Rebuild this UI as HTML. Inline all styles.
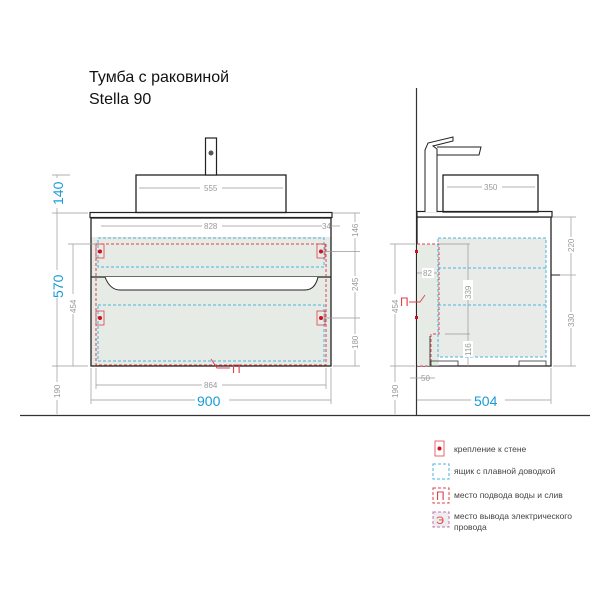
<!DOCTYPE html>
<html><head><meta charset="utf-8"><style>
html,body{margin:0;padding:0;background:#fff;}
svg{display:block;font-family:"Liberation Sans",sans-serif;}
.d{stroke:#999;stroke-width:0.7;fill:none}
.t{fill:#999;font-size:8px}
.b{fill:#1a9bd7;font-size:14px}
.k{stroke:#222;stroke-width:1.3;fill:none}
.cy{stroke:#4ab4e0;stroke-width:1;stroke-dasharray:3,2;fill:none}
.rd{stroke:#e0404a;stroke-width:1;stroke-dasharray:3,2;fill:none}
</style></head><body>
<svg width="600" height="600" viewBox="0 0 600 600" xmlns="http://www.w3.org/2000/svg">
<text x="89" y="82" font-size="16" fill="#111">Тумба с раковиной</text>
<text x="89" y="104" font-size="16" fill="#111">Stella 90</text>

<line x1="20" y1="415.5" x2="590" y2="415.5" stroke="#333" stroke-width="1.2"/>

<!-- FRONT VIEW -->
<rect x="91" y="218" width="240" height="148" fill="#e6ebe6"/>
<rect x="91" y="218" width="240" height="19" fill="#fff"/>
<rect x="91" y="218" width="240" height="148" class="k"/>
<line x1="91" y1="277" x2="331" y2="277" stroke="#222" stroke-width="1.3"/>
<path d="M105 277 Q110 290 120 290 L305 290 Q315 290 318 277" fill="#fff" stroke="#222" stroke-width="1"/>
<rect x="90" y="212.5" width="242" height="5" fill="#fff" stroke="#222" stroke-width="1.2"/>
<rect x="136" y="175" width="150" height="37.5" fill="#fff" class="k"/>
<rect x="205.5" y="138" width="11" height="37" fill="#fff" stroke="#222" stroke-width="1.2"/>
<circle cx="211" cy="153" r="2.5" fill="#555"/>
<rect x="98" y="238" width="226" height="29" class="cy"/>
<rect x="98" y="305" width="226" height="56" class="cy"/>
<rect x="96" y="244" width="230" height="121" class="rd"/>
<g fill="none" stroke="#e0404a" stroke-width="0.8">
<rect x="96" y="244" width="8" height="14"/><rect x="317" y="244" width="8" height="14"/>
<rect x="96" y="311" width="8" height="14"/><rect x="317" y="311" width="8" height="14"/></g>
<g fill="#d0101a"><circle cx="100" cy="251.5" r="2"/><circle cx="321" cy="251.5" r="2"/><circle cx="100" cy="318" r="2"/><circle cx="321" cy="318" r="2"/></g>
<path d="M211 359 L217 368 L230 368" fill="none" stroke="#e0404a" stroke-width="0.9"/>
<text x="232" y="373" font-size="12" fill="#e0404a">П</text>

<line x1="139" y1="188" x2="283" y2="188" class="d"/><rect x="200" y="183" width="22" height="10" fill="#fff"/><text x="204" y="191" class="t">555</text>
<line x1="101" y1="226" x2="322" y2="226" class="d"/><rect x="202" y="221" width="20" height="10" fill="#fff"/><text x="204" y="229" class="t">828</text>
<text x="322" y="229" class="t">34</text><line x1="331" y1="226" x2="340" y2="226" class="d"/>
<line x1="96" y1="385" x2="326" y2="385" class="d"/><rect x="202" y="380" width="20" height="10" fill="#fff"/><text x="204" y="388" class="t">864</text>
<line x1="91" y1="400" x2="331" y2="400" class="d"/><rect x="195" y="392" width="34" height="15" fill="#fff"/><text x="197" y="406" class="b">900</text>
<line x1="91" y1="368" x2="91" y2="404" class="d"/><line x1="331" y1="368" x2="331" y2="404" class="d"/>
<line x1="96" y1="368" x2="96" y2="389" class="d"/><line x1="326" y1="368" x2="326" y2="389" class="d"/>
<line x1="57" y1="175" x2="57" y2="414" class="d"/>
<line x1="52" y1="175" x2="70" y2="175" class="d"/><line x1="52" y1="213" x2="88" y2="213" class="d"/><line x1="52" y1="366" x2="88" y2="366" class="d"/>
<rect x="50" y="178" width="14" height="30" fill="#fff"/>
<text transform="translate(63,205) rotate(-90)" class="b">140</text>
<rect x="50" y="270" width="14" height="28" fill="#fff"/>
<text transform="translate(63,298) rotate(-90)" class="b">570</text>
<rect x="52" y="382" width="10" height="18" fill="#fff"/>
<text transform="translate(60,398) rotate(-90)" class="t">190</text>
<line x1="73" y1="244" x2="73" y2="366" class="d"/><line x1="68" y1="244" x2="96" y2="244" class="d"/>
<rect x="68" y="294" width="10" height="20" fill="#fff"/>
<text transform="translate(76,313) rotate(-90)" class="t">454</text>
<line x1="355" y1="213" x2="355" y2="366" class="d"/>
<line x1="333" y1="213" x2="360" y2="213" class="d"/><line x1="323" y1="251.5" x2="360" y2="251.5" class="d"/><line x1="323" y1="318" x2="360" y2="318" class="d"/><line x1="333" y1="366" x2="360" y2="366" class="d"/>
<rect x="350" y="222" width="10" height="16" fill="#fff"/><text transform="translate(358,237) rotate(-90)" class="t">146</text>
<rect x="350" y="276" width="10" height="16" fill="#fff"/><text transform="translate(358,291) rotate(-90)" class="t">245</text>
<rect x="350" y="334" width="10" height="16" fill="#fff"/><text transform="translate(358,349) rotate(-90)" class="t">180</text>

<!-- SIDE VIEW -->
<line x1="416.5" y1="88" x2="416.5" y2="416" stroke="#333" stroke-width="1.2"/>
<rect x="417" y="217" width="134" height="149" fill="#fff" class="k"/>
<rect x="438" y="238" width="108" height="119" fill="#e8ebe8"/>
<rect x="417" y="244" width="22" height="122" fill="#e6ebe6"/>
<path d="M417 244 L439 244 L439 334 L431 334 L431 366 L417 366" fill="none" stroke="#e0404a" stroke-width="0.9" stroke-dasharray="3,2"/>
<rect x="438" y="238" width="108" height="119" class="cy"/>
<line x1="438" y1="268" x2="546" y2="268" class="cy"/><line x1="438" y1="305" x2="546" y2="305" class="cy"/>
<line x1="551" y1="275" x2="560" y2="275" stroke="#222"/>
<rect x="415" y="250" width="3" height="3" fill="#d0101a"/><rect x="415" y="316" width="3" height="3" fill="#d0101a"/>
<line x1="430" y1="366" x2="430" y2="336" stroke="#222" stroke-width="0.8"/>
<rect x="431" y="361" width="27" height="5" fill="none" stroke="#333" stroke-width="0.8"/><rect x="519" y="361" width="27" height="5" fill="none" stroke="#333" stroke-width="0.8"/>
<rect x="417" y="211.5" width="135" height="5.5" fill="#fff" stroke="#222" stroke-width="1.2"/>
<rect x="443" y="175" width="95" height="37" fill="#fff" class="k"/>
<path d="M425 212 L425 150 L428 143 L453 137 L453 141 L433 146 L437 149 L437 212 M437 147 L481 147 L479 155 L437 155" fill="#fff" stroke="#222" stroke-width="1"/>
<text x="400" y="306" font-size="12" fill="#e0404a">П</text>
<path d="M409 302 L420 302 L425 295" fill="none" stroke="#e0404a" stroke-width="0.9"/>
<line x1="447" y1="187" x2="535" y2="187" class="d"/><rect x="482" y="182" width="20" height="10" fill="#fff"/><text x="484" y="190" class="t">350</text>
<line x1="417" y1="273" x2="437" y2="273" class="d"/><rect x="422" y="268" width="12" height="10" fill="#fff"/><text x="423" y="276" class="t">82</text>
<line x1="468" y1="244" x2="468" y2="366" class="d"/><line x1="440" y1="244" x2="470" y2="244" class="d"/><line x1="445" y1="334" x2="470" y2="334" class="d"/>
<rect x="463" y="280" width="10" height="20" fill="#fff"/><text transform="translate(471,299) rotate(-90)" class="t">339</text>
<rect x="463" y="341" width="10" height="16" fill="#fff"/><text transform="translate(471,356) rotate(-90)" class="t">116</text>
<line x1="395" y1="244" x2="395" y2="414" class="d"/><line x1="390" y1="244" x2="415" y2="244" class="d"/><line x1="390" y1="366" x2="415" y2="366" class="d"/>
<rect x="390" y="294" width="10" height="20" fill="#fff"/><text transform="translate(398,313) rotate(-90)" class="t">454</text>
<rect x="390" y="382" width="10" height="18" fill="#fff"/><text transform="translate(398,398) rotate(-90)" class="t">190</text>
<line x1="410" y1="378" x2="435" y2="378" class="d"/><text x="421" y="381" class="t">50</text>
<line x1="417" y1="400" x2="551" y2="400" class="d"/><line x1="551" y1="368" x2="551" y2="404" class="d"/>
<rect x="471" y="392" width="34" height="15" fill="#fff"/><text x="474" y="406" class="b">504</text>
<line x1="571" y1="217" x2="571" y2="366" class="d"/>
<line x1="553" y1="217" x2="576" y2="217" class="d"/><line x1="560" y1="275" x2="576" y2="275" class="d"/><line x1="553" y1="366" x2="576" y2="366" class="d"/>
<rect x="566" y="237" width="10" height="16" fill="#fff"/><text transform="translate(574,252) rotate(-90)" class="t">220</text>
<rect x="566" y="312" width="10" height="16" fill="#fff"/><text transform="translate(574,327) rotate(-90)" class="t">330</text>

<!-- LEGEND -->
<rect x="435" y="441" width="9" height="15" fill="#fff" stroke="#e0404a" stroke-width="0.8"/><circle cx="439.5" cy="448.5" r="2" fill="#d0101a"/>
<text x="454" y="452" font-size="8.5" fill="#444">крепление к стене</text>
<rect x="433" y="464" width="16" height="15" fill="#e8ebe8" class="cy"/>
<text x="454" y="474" font-size="8.5" fill="#444">ящик с плавной доводкой</text>
<rect x="433" y="488" width="16" height="15" fill="#fff" class="rd"/><text x="436" y="500" font-size="12" fill="#e0404a">П</text>
<text x="454" y="498" font-size="8.5" fill="#444">место подвода воды и слив</text>
<rect x="433" y="512" width="16" height="15" fill="#eee" stroke="#c070b0" stroke-width="1" stroke-dasharray="3,2"/><text x="436" y="524" font-size="11" fill="#e0404a">Э</text>
<text x="454" y="519" font-size="8.5" fill="#444">место вывода электрического</text>
<text x="454" y="530" font-size="8.5" fill="#444">провода</text>
</svg>
</body></html>
